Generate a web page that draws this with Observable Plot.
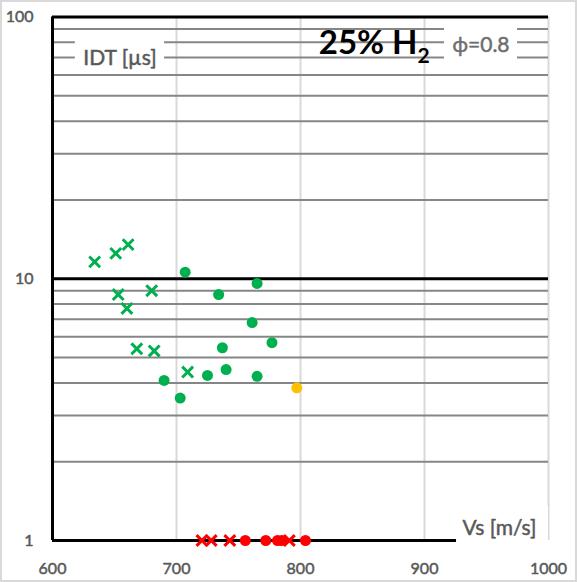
<!DOCTYPE html>
<html><head><meta charset="utf-8">
<script src="https://cdn.jsdelivr.net/npm/d3@7"></script>
<script src="https://cdn.jsdelivr.net/npm/@observablehq/plot@0.6"></script>
<style>body{margin:0;background:#fff} svg{display:block}
.thick text{paint-order:stroke;stroke-linejoin:round}</style>
</head><body><div id="chart"></div>
<script>
// ---- tick labels / grid values ----
const xTicks = [600, 700, 800, 900, 1000];
const yTicks = [1, 10, 100];
const yMinorGrid = [2, 3, 4, 5, 6, 7, 8, 9, 20, 30, 40, 50, 60, 70, 80, 90];
const yMajorGrid = [1, 10, 100];

// ---- series ----
const greenCrossX = [634, 651, 661, 653, 680, 660, 668, 682, 709];
const greenCrossY = [11.6, 12.5, 13.5, 8.7, 9.0, 7.7, 5.4, 5.3, 4.4];
const greenDotX = [707, 765, 734, 761, 777, 737, 740, 725, 765, 690, 703];
const greenDotY = [10.6, 9.6, 8.7, 6.8, 5.7, 5.45, 4.5, 4.27, 4.24, 4.09, 3.5];
const orangeDotX = [797];
const orangeDotY = [3.83];
const redCrossX = [720.5, 728, 743, 791];
const redCrossY = [1, 1, 1, 1];
const redDotX = [755.5, 772, 781.5, 785, 804];
const redDotY = [1, 1, 1, 1, 1];

// ---- annotation texts ----
const yTitle = "IDT [µs]";
const xTitle = "Vs [m/s]";
const mainTitle = "25% H";
const mainTitleSub = "2";
const phiLabel = "ϕ=0.8";

const pts = (xs, ys) => xs.map((x, i) => ({x, y: ys[i]}));
const gray = "#595959";

const chart = Plot.plot({
  width: 577, height: 582,
  marginLeft: 52, marginRight: 29, marginTop: 16.5, marginBottom: 42,
  style: {fontFamily: "Lato, sans-serif", fontSize: "16px", color: gray, background: "white"},
  x: {domain: [600, 1000]},
  y: {type: "log", domain: [1, 100]},
  marks: [
    Plot.ruleX(xTicks.slice(1), {stroke: "#d9d9d9", strokeWidth: 2}),
    Plot.ruleY(yMinorGrid, {stroke: "#868686", strokeWidth: 2}),
    Plot.ruleY(yMajorGrid, {stroke: "black", strokeWidth: 3}),
    Plot.ruleX([600], {stroke: "black", strokeWidth: 3}),
    Plot.axisX(xTicks, {tickSize: 0, tickPadding: 22, label: null, fontSize: 16, tickFormat: d => String(d),
      textStroke: gray, textStrokeWidth: 0.5, className: "thick"}),
    Plot.axisY(yTicks, {tickSize: 0, tickPadding: 19, label: null, fontSize: 16, tickFormat: d => String(d),
      textStroke: gray, textStrokeWidth: 0.5, className: "thick"}),
    Plot.text([yTitle], {x: [654.4], y: [65.3], text: d => d, lineAnchor: "bottom", fontSize: 21, fill: gray,
      stroke: gray, strokeWidth: 0.5, className: "box-idt"}),
    Plot.text([phiLabel], {x: [945.6], y: [73.2], text: d => d, lineAnchor: "bottom", fontSize: 21, fill: "#6e6e6e",
      stroke: "#6e6e6e", strokeWidth: 0.5, className: "box-phi"}),
    Plot.text([xTitle], {x: [960.5], y: [1.045], text: d => d, lineAnchor: "bottom", fontSize: 21, fill: gray,
      stroke: gray, strokeWidth: 0.5, className: "box-vs"}),
    Plot.text([mainTitle], {x: [894.4], y: [72.5], text: d => d, lineAnchor: "bottom", textAnchor: "end", fontSize: 33, fontWeight: "bold", fill: "black"}),
    Plot.text([mainTitleSub], {x: [894.4], y: [67.0], text: d => d, lineAnchor: "bottom", textAnchor: "start", fontSize: 21, fontWeight: "bold", fill: "black"}),
    Plot.dot(pts(greenDotX, greenDotY), {x: "x", y: "y", r: 5.5, fill: "#00b050"}),
    Plot.dot(pts(greenCrossX, greenCrossY), {x: "x", y: "y", r: 5, symbol: "times", stroke: "#00b050", strokeWidth: 3}),
    Plot.dot(pts(orangeDotX, orangeDotY), {x: "x", y: "y", r: 5.5, fill: "#ffc000"}),
    Plot.dot(pts(redDotX, redDotY), {x: "x", y: "y", r: 5.5, fill: "#ff0000"}),
    Plot.dot(pts(redCrossX, redCrossY), {x: "x", y: "y", r: 5, symbol: "times", stroke: "#ff0000", strokeWidth: 3})
  ]
});
document.getElementById("chart").append(chart);

// white backgrounds behind label texts (as in the reference)
const pads = {
  "box-idt": {l: 8, r: 8, t: 12, b: 1},
  "box-phi": {l: 8, r: 8, t: 10, b: 11},
  "box-vs": {l: 6, r: 12, t: 8, b: 4}
};
const svg = d3.select(chart);
for (const [cls, p] of Object.entries(pads)) {
  const g = chart.querySelector("g." + cls);
  if (!g) continue;
  const bb = g.getBBox();
  const rect = document.createElementNS("http://www.w3.org/2000/svg", "rect");
  rect.setAttribute("x", bb.x - p.l);
  rect.setAttribute("y", bb.y - p.t);
  rect.setAttribute("width", bb.width + p.l + p.r);
  rect.setAttribute("height", bb.height + p.t + p.b);
  rect.setAttribute("fill", "white");
  g.parentNode.insertBefore(rect, g);
}
// light outer border
svg.append("rect").attr("x", 1).attr("y", 1).attr("width", 575).attr("height", 580)
  .attr("fill", "none").attr("stroke", "#d9d9d9").attr("stroke-width", 2);
</script>
</body></html>
